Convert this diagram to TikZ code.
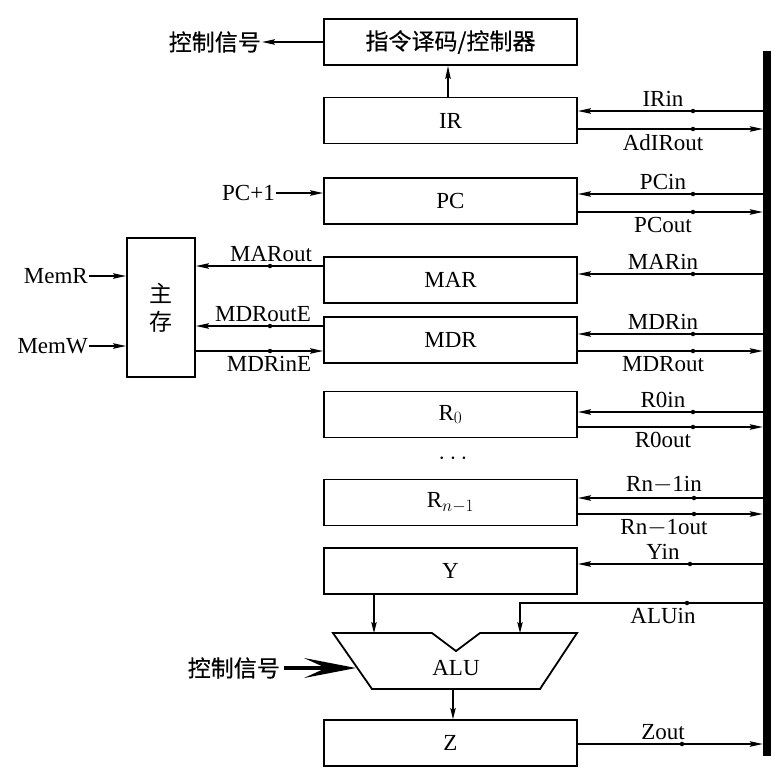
\documentclass[tikz,border=0pt]{standalone}
\usepackage{fontspec}
\setmainfont{Liberation Serif}
\newfontfamily\cjk[FakeBold=0.4]{Noto Sans CJK SC}
\newfontfamily\cjklight{Noto Sans CJK SC}
\usetikzlibrary{arrows.meta,calc}
\begin{document}
\begin{tikzpicture}[x=1pt,y=-1pt,
  font=\fontsize{23}{26}\selectfont,
  reg/.style={draw,line width=1.9pt,minimum width=253pt,minimum height=46pt,inner sep=0pt},
  sig/.style={line width=1.5pt,-{Stealth[length=13pt,width=5.5pt,inset=2pt]}},
  thin sig/.style={line width=1.2pt,-{Stealth[length=11pt,width=5.5pt,inset=2pt]}},
  lab above/.style={anchor=south,inner sep=0pt,yshift=4pt},
  lab below/.style={anchor=north,inner sep=0pt,yshift=-5pt},
  cn/.style={font=\cjk\fontsize{23}{27}\selectfont},
  busbar/.style={fill=black,draw=none,minimum width=8pt,minimum height=705pt,inner sep=0pt},
  junction/.style={circle,fill=black,inner sep=0pt,minimum size=4.5pt}]

\useasboundingbox (0,0) rectangle (773,771);

% registers and control unit
\node[reg,cn] (ctrl) at (450.5,42) {指令译码/控制器};
\node[reg] (IR)  at (450.5,120.5) {IR};
\node[reg] (PC)  at (450.5,201) {PC};
\node[reg] (MAR) at (450.5,280) {MAR};
\node[reg] (MDR) at (450.5,340) {MDR};
\node[reg] (R0)  at (450.5,414.5) {R$_0$};
\node[reg] (Rn)  at (450.5,502.5) {R$_{n-1}$};
\node[reg] (Y)   at (450.5,571) {Y};
\node[reg] (Z)   at (450.5,743) {Z};
\node (dots) at (453,459) {$\cdots$};

% main memory
\node[draw,line width=1.9pt,minimum width=68pt,minimum height=139pt,inner sep=0pt,
      align=center,font=\cjklight\fontsize{23}{28}\selectfont] (mem) at (161,307.5) {主\\存};

% internal bus
\node[busbar] (bus) at (767,403.5) {};

% ALU
\draw[line width=1.8pt] (333,633) -- (432,633) -- (456,651) -- (480,633) -- (577,633)
  -- (540,689) -- (372,689) -- cycle;
\node (alu) at (456,668) {ALU};
\coordinate (aluA) at (374,633);
\coordinate (aluB) at (520,633);
\coordinate (aluL) at (356,668);
\coordinate (aluO) at (453,689);

% control unit outputs
\node[cn,anchor=east,inner sep=1pt] (ctlsig) at (262,42) {控制信号};
\draw[sig] (ctrl.west) -- (ctlsig.east);
\draw[sig] (IR.north -| 448,0) -- (ctrl.south -| 448,0);

% PC increment
\node[anchor=east,inner sep=1pt] (pcinc) at (276,193) {PC+1};
\draw[sig] (pcinc.east) -- (PC.west |- 0,193);

% memory control lines
\node[anchor=east,inner sep=1pt] (memr) at (89,276) {MemR};
\node[anchor=east,inner sep=1pt] (memw) at (89,346) {MemW};
\draw[sig] (memr.east) -- (mem.west |- 0,276);
\draw[sig] (memw.east) -- (mem.west |- 0,346);

% memory <-> MAR / MDR
\draw[sig] (MAR.west |- 0,266) -- (mem.east |- 0,266);
\node[junction] at (270,266) {};
\node[lab above] at (271,266) {MARout};
\draw[sig] (MDR.west |- 0,326) -- (mem.east |- 0,326);
\node[junction] at (270,326) {};
\node[lab above] at (263,326) {MDRoutE};
\draw[sig] (mem.east |- 0,351) -- (MDR.west |- 0,351);
\node[junction] at (270,351) {};
\node[lab below] at (269,351) {MDRinE};

% bus -> register (in) lines
\draw[sig] (bus.west |- 0,111) -- (IR.east |- 0,111);
\node[junction] at (693,111) {};
\node[lab above] at (663,111) {IRin};
\draw[sig] (bus.west |- 0,194) -- (PC.east |- 0,194);
\node[junction] at (693,194) {};
\node[lab above] at (663,194) {PCin};
\draw[sig] (bus.west |- 0,274) -- (MAR.east |- 0,274);
\node[junction] at (693,274) {};
\node[lab above] at (663,274) {MARin};
\draw[sig] (bus.west |- 0,334) -- (MDR.east |- 0,334);
\node[junction] at (693,334) {};
\node[lab above] at (663,334) {MDRin};
\draw[sig] (bus.west |- 0,412) -- (R0.east |- 0,412);
\node[junction] at (693,412) {};
\node[lab above] at (663,412) {R0in};
\draw[sig] (bus.west |- 0,498) -- (Rn.east |- 0,498);
\node[junction] at (694,498) {};
\node[lab above] at (664,498) {Rn$-$1in};
\draw[sig] (bus.west |- 0,564) -- (Y.east |- 0,564);
\node[junction] at (690,564) {};
\node[lab above] at (663,564) {Yin};

% register -> bus (out) lines
\draw[sig] (IR.east |- 0,129) -- (bus.west |- 0,129);
\node[junction] at (693,129) {};
\node[lab below] at (663,129) {AdIRout};
\draw[sig] (PC.east |- 0,212) -- (bus.west |- 0,212);
\node[junction] at (693,212) {};
\node[lab below] at (663,212) {PCout};
\draw[sig] (MDR.east |- 0,351) -- (bus.west |- 0,351);
\node[junction] at (693,351) {};
\node[lab below] at (663,351) {MDRout};
\draw[sig] (R0.east |- 0,427) -- (bus.west |- 0,427);
\node[junction] at (693,427) {};
\node[lab below] at (663,427) {R0out};
\draw[sig] (Rn.east |- 0,514) -- (bus.west |- 0,514);
\node[junction] at (694,514) {};
\node[lab below] at (664,514) {Rn$-$1out};
\draw[sig] (Z.east |- 0,744) -- (bus.west |- 0,744);
\node[junction] at (682,744) {};
\node[lab above] at (663,744) {Zout};

% ALU inputs and output
\draw[thin sig] (Y.south -| aluA) -- (aluA);
\draw[thin sig] (bus.west |- 0,603) -- (520,603) -- (aluB);
\node[junction] at (687,603) {};
\node[lab below] at (663,603) {ALUin};
\draw[thin sig] (aluO) -- (Z.north -| aluO);

% ALU function select
\node[cn,anchor=east,inner sep=1pt] (alusig) at (281,668) {控制信号};
\draw[line width=4pt,-{Stealth[length=52pt,width=20pt,inset=22pt]}] (alusig.east) ++(3,0) -- (aluL);

\end{tikzpicture}
\end{document}
